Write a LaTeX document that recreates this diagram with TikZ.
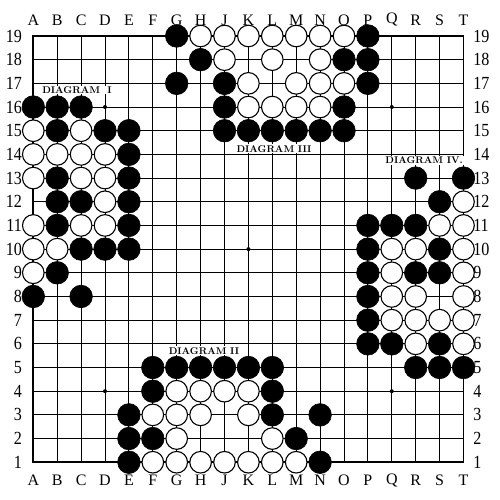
\documentclass[tikz,border=0pt]{standalone}
\usepackage{fontspec}
\newfontfamily\coordfont{Liberation Serif}
\newfontfamily\numfont[FakeStretch=0.87]{Liberation Serif}
\begin{document}
\begin{tikzpicture}[
  bstone/.style={circle,fill=black,draw=black,line width=0.6pt,minimum size=22.6pt,inner sep=0pt},
  wstone/.style={circle,fill=white,draw=black,line width=1.1pt,minimum size=21.6pt,inner sep=0pt},
  gridline/.style={line width=0.9pt},
  edgeline/.style={line width=1.7pt},
  coordlab/.style={font=\coordfont\fontsize{16}{18}\selectfont,inner sep=0pt},
  numlab/.style={font=\numfont\fontsize{18.5}{20}\selectfont,inner sep=0pt},
  diaglab/.style={font=\fontsize{9.8}{11}\selectfont\bfseries,fill=white,inner sep=1pt},
  starpt/.style={circle,fill=black,minimum size=4pt,inner sep=0pt}
]
\useasboundingbox (0,0) rectangle (500pt,500pt);
\fill[white] (0,0) rectangle (500pt,500pt);
\begin{scope}[shift={(9.4pt,14.08pt)}, x=23.9pt, y=23.68pt]
  % grid
  \foreach \i in {2,...,18} {
    \draw[gridline] (\i,1) -- (\i,19);
    \draw[gridline] (1,\i) -- (19,\i);
  }
  \draw[edgeline] (1,1) rectangle (19,19);
  % star points
  \foreach \p/\c/\r in {s1/4/4,s2/16/4,s3/4/16,s4/16/16,s5/10/10}
    \node[starpt] (\p) at (\c,\r) {};
  % coordinate letters
  \foreach \L [count=\c] in {A,B,C,D,E,F,G,H,J,K,L,M,N,O,P,Q,R,S,T} {
    \node[coordlab] (top\L) at (\c,19.68) {\L};
    \node[coordlab] (bot\L) at (\c,0.25) {\L};
  }
  \foreach \r in {1,...,19} {
    \node[numlab,anchor=east] (lft\r) at (0.53,\r) {\r};
    \node[numlab,anchor=west] (rgt\r) at (19.4,\r) {\r};
  }
  % Diagram III
  \foreach \c/\r in {7/19,15/19,8/18,14/18,15/18,7/17,9/17,15/17,9/16,14/16,9/15,10/15,11/15,12/15,13/15,14/15}
    \node[bstone] (b\c-\r) at (\c,\r) {};
  \foreach \c/\r in {8/19,9/19,10/19,11/19,12/19,13/19,14/19,9/18,11/18,13/18,10/17,12/17,13/17,14/17,10/16,11/16,12/16,13/16}
    \node[wstone] (w\c-\r) at (\c,\r) {};
  % Diagram I
  \foreach \c/\r in {1/16,2/16,3/16,2/15,4/15,5/15,5/14,2/13,5/13,2/12,3/12,5/12,2/11,5/11,3/10,4/10,5/10,2/9,1/8,3/8}
    \node[bstone] (b\c-\r) at (\c,\r) {};
  \foreach \c/\r in {1/15,3/15,1/14,2/14,3/14,4/14,1/13,3/13,4/13,4/12,1/11,3/11,4/11,1/10,2/10,1/9}
    \node[wstone] (w\c-\r) at (\c,\r) {};
  % Diagram IV
  \foreach \c/\r in {17/13,19/13,18/12,15/11,16/11,17/11,15/10,18/10,15/9,17/9,18/9,15/8,15/7,15/6,16/6,18/6,17/5,18/5,19/5}
    \node[bstone] (b\c-\r) at (\c,\r) {};
  \foreach \c/\r in {19/12,18/11,19/11,16/10,17/10,19/10,16/9,19/9,16/8,17/8,19/8,16/7,17/7,18/7,19/7,17/6,19/6}
    \node[wstone] (w\c-\r) at (\c,\r) {};
  % Diagram II
  \foreach \c/\r in {6/5,7/5,8/5,9/5,10/5,11/5,6/4,11/4,5/3,11/3,13/3,5/2,6/2,12/2,5/1,13/1}
    \node[bstone] (b\c-\r) at (\c,\r) {};
  \foreach \c/\r in {7/4,8/4,9/4,10/4,6/3,7/3,8/3,10/3,7/2,11/2,6/1,7/1,8/1,9/1,10/1,11/1,12/1}
    \node[wstone] (w\c-\r) at (\c,\r) {};
  % labels
  \node[diaglab] (dI) at (2.83,16.72) {DIAGRAM\ \ I};
  \node[diaglab] (dII) at (8.14,5.70) {DIAGRAM\ II};
  \node[diaglab] (dIII) at (11.07,14.23) {DIAGRAM\ III};
  \node[diaglab] (dIV) at (17.35,13.76) {DIAGRAM IV.};
\end{scope}
\end{tikzpicture}
\end{document}
